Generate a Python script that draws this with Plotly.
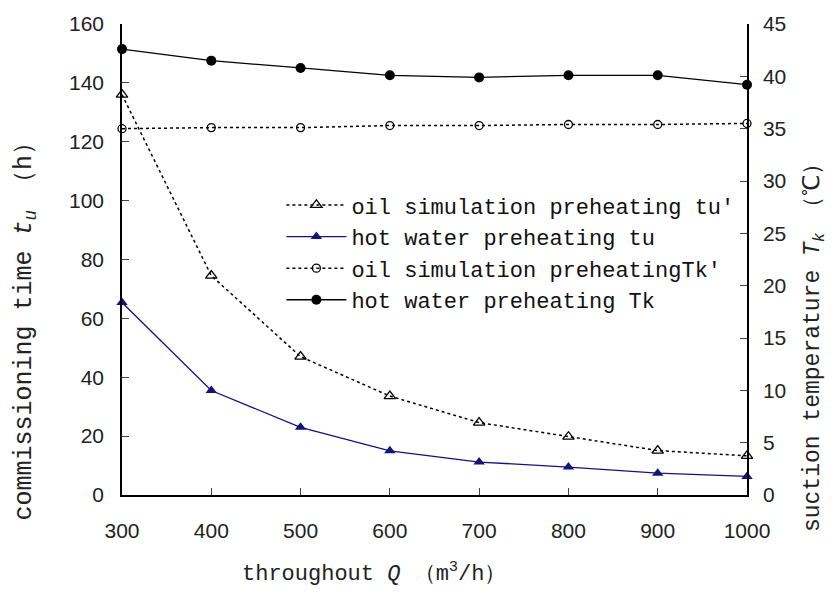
import plotly.graph_objects as go

Q = [300, 400, 500, 600, 700, 800, 900, 1000]
oil_tu = [136, 74.5, 47, 33.6, 24.6, 19.8, 15.1, 13.3]
hot_tu = [65.4, 35.5, 23, 15, 11.2, 9.5, 7.4, 6.3]
oil_tk = [35.0, 35.1, 35.1, 35.3, 35.3, 35.4, 35.4, 35.5]
hot_tk = [42.6, 41.5, 40.8, 40.1, 39.9, 40.1, 40.1, 39.2]

names = ["oil simulation preheating tu'", "hot water preheating tu",
         "oil simulation preheatingTk'", "hot water preheating Tk"]
x_title = "throughout <i>Q</i> （m<sup>3</sup>/h）"
y_title = "commissioning time <i>t<sub>u</sub></i> （h）"
y2_title = "suction temperature <i>T<sub>k</sub></i> （℃）"

navy = "#141478"
fig = go.Figure()
fig.add_trace(go.Scatter(x=Q, y=oil_tu, name=names[0], mode="lines+markers",
                         line=dict(color="black", width=1.5, dash="dot"),
                         marker=dict(symbol="triangle-up-open", size=10, color="black", line=dict(width=1.3)),
                         cliponaxis=False))
fig.add_trace(go.Scatter(x=Q, y=hot_tu, name=names[1], mode="lines+markers",
                         line=dict(color=navy, width=1.3),
                         marker=dict(symbol="triangle-up", size=10, color=navy),
                         cliponaxis=False))
fig.add_trace(go.Scatter(x=Q, y=oil_tk, name=names[2], mode="lines+markers", yaxis="y2",
                         line=dict(color="black", width=1.5, dash="dot"),
                         marker=dict(symbol="circle-open", size=8, color="black", line=dict(width=1.3)),
                         cliponaxis=False))
fig.add_trace(go.Scatter(x=Q, y=hot_tk, name=names[3], mode="lines+markers", yaxis="y2",
                         line=dict(color="black", width=1.3),
                         marker=dict(symbol="circle", size=10, color="black"),
                         cliponaxis=False))

tickfont = dict(family="Liberation Sans, Arial", size=21, color="#222")
mono = "Liberation Mono, Courier New"

fig.update_layout(
    width=835, height=594,
    margin=dict(l=122, r=88, t=18, b=99),
    plot_bgcolor="white", paper_bgcolor="white",
    showlegend=True,
    legend=dict(x=0.255, y=0.66, xanchor="left", yanchor="top",
                font=dict(family=mono, size=22, color="#111"),
                bgcolor="rgba(0,0,0,0)", itemwidth=60, tracegroupgap=0),
    xaxis=dict(range=[300, 1000], dtick=100, tick0=300, ticks="inside", ticklen=7,
               showline=True, linecolor="black", linewidth=1.5, showgrid=False, zeroline=False,
               tickfont=tickfont, ticklabelstandoff=16),
    yaxis=dict(range=[0, 160], dtick=20, ticks="inside", ticklen=7,
               showline=True, linecolor="black", linewidth=1.5, showgrid=False, zeroline=False,
               tickfont=tickfont, ticklabelstandoff=12),
    yaxis2=dict(range=[0, 45], dtick=5, ticks="inside", ticklen=7, overlaying="y", side="right",
                showline=True, linecolor="black", linewidth=1.5, showgrid=False, zeroline=False,
                tickfont=tickfont, ticklabelstandoff=10),
    annotations=[
        dict(text=x_title, xref="paper", yref="paper", x=0.189, y=-0.164,
             xanchor="left", yanchor="middle", showarrow=False,
             font=dict(family=mono, size=22, color="#222")),
        dict(text=y_title, xref="paper", yref="paper", x=-0.155, y=0.36,
             xanchor="center", yanchor="middle", textangle=-90, showarrow=False,
             font=dict(family=mono, size=25, color="#222")),
        dict(text=y2_title, xref="paper", yref="paper", x=1.109, y=0.325,
             xanchor="center", yanchor="middle", textangle=-90, showarrow=False,
             font=dict(family=mono, size=23, color="#222")),
    ],
)

fig.write_html("out.html")
